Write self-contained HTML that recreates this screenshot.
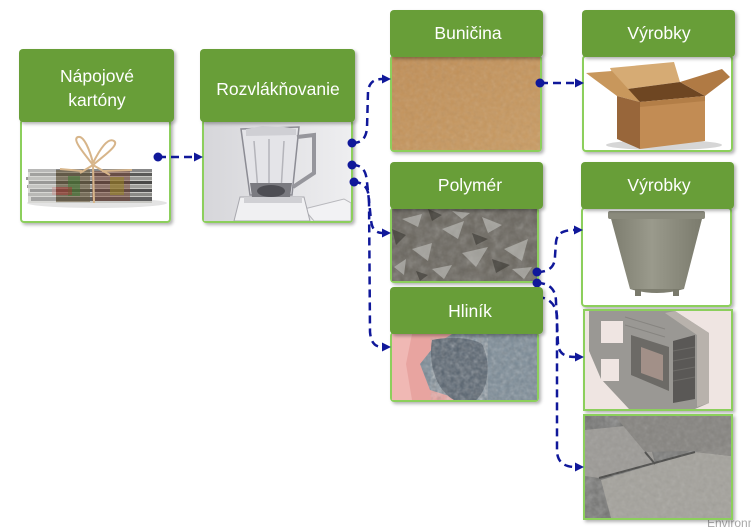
<!DOCTYPE html>
<html><head><meta charset="utf-8"><style>
html,body{margin:0;padding:0;background:#fff;}
body{width:751px;height:528px;overflow:hidden;}
svg{display:block;}
text{font-family:"Liberation Sans",sans-serif;}
</style></head><body>
<svg width="751" height="528" viewBox="0 0 751 528" xmlns="http://www.w3.org/2000/svg">
<defs>
<filter id="sh" x="-10%" y="-10%" width="130%" height="130%"><feDropShadow dx="2" dy="2" stdDeviation="1.5" flood-color="#000" flood-opacity="0.3"/></filter>
<filter id="noise" x="0" y="0" width="100%" height="100%"><feTurbulence type="fractalNoise" baseFrequency="0.22" numOctaves="2" seed="4"/><feColorMatrix type="saturate" values="0"/></filter>
<filter id="noise2" x="0" y="0" width="100%" height="100%"><feTurbulence type="fractalNoise" baseFrequency="0.12" numOctaves="3" seed="9"/><feColorMatrix type="saturate" values="0"/></filter>
<linearGradient id="blg" x1="0" y1="0" x2="1" y2="0"><stop offset="0" stop-color="#d6d6da"/><stop offset="1" stop-color="#eeeef0"/></linearGradient>
<linearGradient id="bun" x1="0" y1="0" x2="1" y2="1"><stop offset="0" stop-color="#c08e56"/><stop offset="1" stop-color="#c99c64"/></linearGradient>
<linearGradient id="pot" x1="0" y1="0" x2="1" y2="0"><stop offset="0" stop-color="#7c7c6e"/><stop offset="0.45" stop-color="#9a9a8c"/><stop offset="1" stop-color="#7a7a6c"/></linearGradient>
</defs>

<text x="707" y="527" font-size="12" fill="#a8a8a8">Environment</text>

<!-- bodies -->
<g filter="url(#sh)">
<rect x="21" y="120" width="149" height="102" rx="3" fill="#fff" stroke="#8ccf5c" stroke-width="2"/>
<rect x="203" y="120" width="149" height="102" rx="3" fill="#fff" stroke="#8ccf5c" stroke-width="2"/>
<rect x="391" y="56" width="150" height="95" rx="3" fill="#fff" stroke="#8ccf5c" stroke-width="2"/>
<rect x="583" y="56" width="149" height="95" rx="3" fill="#fff" stroke="#8ccf5c" stroke-width="2"/>
<rect x="391" y="208" width="147" height="74" rx="3" fill="#fff" stroke="#8ccf5c" stroke-width="2"/>
<rect x="582" y="208" width="149" height="98" rx="3" fill="#fff" stroke="#8ccf5c" stroke-width="2"/>
<rect x="391" y="333" width="147" height="68" rx="3" fill="#fff" stroke="#8ccf5c" stroke-width="2"/>
<rect x="584" y="310" width="148" height="100" fill="#fff" stroke="#8ccf5c" stroke-width="2"/>
<rect x="584" y="415" width="148" height="104" fill="#fff" stroke="#8ccf5c" stroke-width="2"/>
</g>

<!-- N1 image: newspapers -->
<svg x="22" y="121" width="147" height="100">
<ellipse cx="75" cy="82" rx="70" ry="5" fill="#e4e4e4"/>
<rect x="6" y="48" width="124" height="34" fill="#c8c8c4"/>
<g>
<rect x="6" y="48" width="124" height="3" fill="#888"/>
<rect x="8" y="52" width="122" height="3" fill="#5a5a58"/>
<rect x="4" y="56" width="126" height="3" fill="#9a9a96"/>
<rect x="7" y="60" width="123" height="3" fill="#4a4a48"/>
<rect x="5" y="64" width="125" height="3" fill="#a0a09c"/>
<rect x="8" y="68" width="122" height="3" fill="#505050"/>
<rect x="6" y="72" width="124" height="3" fill="#8a8a86"/>
<rect x="9" y="76" width="121" height="4" fill="#606060"/>
</g>
<rect x="34" y="49" width="34" height="32" fill="#6a5a3a" opacity="0.55"/>
<rect x="70" y="50" width="38" height="30" fill="#7a4030" opacity="0.45"/>
<rect x="46" y="55" width="12" height="20" fill="#3a7a30" opacity="0.5"/>
<rect x="88" y="56" width="14" height="18" fill="#9a8a20" opacity="0.5"/>
<rect x="30" y="66" width="20" height="8" fill="#b03030" opacity="0.45"/>
<rect x="6" y="48" width="28" height="34" fill="#e8e8e6" opacity="0.5"/>
<path d="M71,44 C60,30 50,18 56,16 C62,14 68,30 71,42 M71,42 C78,28 86,16 92,20 C98,24 80,36 71,44 M71,44 L58,52 M71,44 L88,54 M71,44 L72,82 M60,50 L38,48 M80,50 L110,49" stroke="#d7b58a" stroke-width="2" fill="none"/>
</svg>

<!-- N2 image: blender -->
<svg x="204" y="121" width="147" height="100">
<rect width="147" height="100" fill="url(#blg)"/>
<path d="M100,88 L140,78 L147,82 L147,100 L110,100 Z" fill="#f2f2f4" stroke="#b8b8bc" stroke-width="1"/>
<path d="M30,100 L36,76 L100,76 L106,100 Z" fill="#f0f0f2" stroke="#a8a8ae" stroke-width="1"/>
<path d="M37,8 L95,6 L88,74 L46,74 Z" fill="#e4e4e8" stroke="#8c8c94" stroke-width="1.5"/>
<path d="M42,8 L58,5 L80,6 L92,8 L92,14 L42,15 Z" fill="#cfcfd4"/>
<path d="M93,16 L110,14 L110,52 L89,66" fill="none" stroke="#96969c" stroke-width="4"/>
<path d="M50,20 L54,70 M80,20 L77,70 M65,18 L65,70" stroke="#b4b4ba" stroke-width="1.5"/>
<path d="M46,62 L88,62 L86,76 L48,76 Z" fill="#7a7a80"/>
<ellipse cx="67" cy="70" rx="14" ry="6" fill="#4e4e54"/>
<rect x="40" y="76" width="58" height="6" fill="#d0d0d4"/>
</svg>

<!-- Bunicina image -->
<svg x="392" y="57" width="148" height="93">
<rect width="148" height="93" fill="url(#bun)"/>
<rect width="148" height="93" filter="url(#noise)" opacity="0.18"/>
</svg>

<!-- Vyrobky 1 box -->
<svg x="584" y="57" width="147" height="93">
<ellipse cx="80" cy="88" rx="58" ry="5" fill="#d6d6d6"/>
<polygon points="26,11 90,5 96,25 36,33" fill="#d6ab74"/>
<polygon points="36,33 96,25 121,39 56,45" fill="#6e4622"/>
<polygon points="2,16 28,14 56,45 33,39" fill="#c8975c"/>
<polygon points="96,25 138,12 146,20 121,39" fill="#b07a44"/>
<polygon points="33,39 56,45 56,92 33,82" fill="#98663a"/>
<polygon points="56,45 121,39 121,84 56,92" fill="#c28c54"/>
<polygon points="56,45 121,39 121,44 56,50" fill="#a87440" opacity="0.6"/>
</svg>

<!-- Polymer image -->
<svg x="392" y="209" width="145" height="72">
<rect width="145" height="72" fill="#69655d"/>
<rect width="145" height="72" filter="url(#noise2)" opacity="0.35"/>
<g fill="#c4c4c0" opacity="0.6">
<polygon points="10,10 30,5 26,18"/><polygon points="50,20 72,12 66,30"/><polygon points="90,8 110,16 96,24"/>
<polygon points="20,40 40,34 36,52"/><polygon points="70,44 96,38 84,58"/><polygon points="112,40 136,30 130,52"/>
<polygon points="40,60 60,56 52,70"/><polygon points="120,60 140,58 132,70"/>
<polygon points="2,58 14,50 12,66"/><polygon points="60,2 78,4 70,10"/>
</g>
<g fill="#35332e" opacity="0.55">
<polygon points="0,20 14,26 4,36"/><polygon points="36,0 50,6 40,12"/><polygon points="100,50 118,56 104,64"/><polygon points="24,62 36,66 28,72"/><polygon points="80,24 96,30 84,36"/>
</g>
</svg>

<!-- Vyrobky 2 pot -->
<svg x="583" y="209" width="147" height="96">
<polygon points="27,6 120,6 101,80 47,80" fill="url(#pot)"/>
<rect x="25" y="2" width="97" height="8" rx="2" fill="#8a8a7c"/>
<path d="M47,80 Q74,88 101,80" fill="#7e7e70"/>
<rect x="52" y="80" width="6" height="7" fill="#7a7a6c"/>
<rect x="90" y="80" width="6" height="7" fill="#7a7a6c"/>
</svg>

<!-- Hlinik image -->
<svg x="392" y="334" width="145" height="66">
<rect width="145" height="66" fill="#7a8a96"/>
<rect width="145" height="66" filter="url(#noise)" opacity="0.45"/>
<path d="M0,0 L60,0 L44,10 L28,30 L38,56 L70,66 L0,66 Z" fill="#e8a4a0"/>
<path d="M0,0 L20,0 L14,30 L20,66 L0,66 Z" fill="#f0b8b4"/>
<path d="M40,6 C60,2 80,4 90,10 C100,30 96,56 84,66 L62,66 C44,56 36,30 40,6 Z" fill="#56626e"/>
<path d="M40,6 C60,2 80,4 90,10 C100,30 96,56 84,66 L62,66 C44,56 36,30 40,6 Z" filter="url(#noise)" opacity="0.5"/>
</svg>

<!-- Pallet image -->
<svg x="585" y="311" width="146" height="98">
<rect width="146" height="98" fill="#efe5e2"/>
<polygon points="4,0 90,0 124,22 124,92 110,98 44,98 16,68 4,40" fill="#9a9894"/>
<polygon points="90,0 124,22 124,92 112,96 112,24 80,2" fill="#b8b2ac"/>
<rect x="16" y="10" width="22" height="22" fill="#efe5e2"/>
<rect x="16" y="48" width="18" height="22" fill="#efe5e2"/>
<polygon points="46,24 84,36 84,80 46,64" fill="#6c6a66"/>
<polygon points="56,36 78,44 78,70 56,62" fill="#a29088"/>
<polygon points="88,30 110,24 110,88 88,92" fill="#5a5856"/>
<g stroke="#7a7874" stroke-width="1" opacity="0.6">
<path d="M40,6 L80,18 M40,14 L80,26 M88,40 L110,36 M88,50 L110,46 M88,60 L110,56 M88,70 L110,66"/>
</g>
</svg>

<!-- Blocks image -->
<svg x="585" y="416" width="146" height="102">
<rect width="146" height="102" fill="#6e6e6c"/>
<rect width="146" height="102" filter="url(#noise2)" opacity="0.45"/>
<polygon points="0,14 60,8 70,48 14,62 0,60" fill="#9c9a96"/>
<polygon points="30,0 146,0 146,34 60,36 40,12" fill="#868480"/>
<polygon points="16,64 110,36 146,40 146,102 26,102" fill="#a4a29c"/>
<polygon points="110,36 146,28 146,40" fill="#8a8884"/>
<path d="M14,62 L110,36 M60,36 L70,48" stroke="#4a4a48" stroke-width="2" fill="none"/>
<rect width="146" height="102" filter="url(#noise)" opacity="0.2"/>
</svg>

<!-- connectors -->
<g stroke="#10189a" stroke-width="2.5" fill="none" stroke-dasharray="8 5">
<path d="M158,157 L196,157"/>
<path d="M352,143 C362,143 366,138 367,128 L368,92 C369,82 374,79 383,79"/>
<path d="M352,165 C362,165 366,170 367,182 L371,220 C372,230 376,233 383,233"/>
<path d="M353,182 C362,182 368,186 369,198 L370,332 C371,343 375,347 383,347"/>
<path d="M540,83 L576,83"/>
<path d="M537,272 C550,272 555,266 555,256 L556,242 C557,233 563,230 576,230"/>
<path d="M537,283 C550,283 556,290 556,302 L558,344 C559,354 565,357 576,357"/>
<path d="M537,297 C548,297 556,304 557,316 L557,452 C558,463 565,467 576,467"/>
</g>
<g fill="#10189a">
<circle cx="158" cy="157" r="4.5"/>
<circle cx="352" cy="143" r="4.5"/>
<circle cx="352" cy="165" r="4.5"/>
<circle cx="354" cy="182" r="4.5"/>
<circle cx="540" cy="83" r="4.5"/>
<circle cx="537" cy="272" r="4.5"/>
<circle cx="537" cy="283" r="4.5"/>
<polygon points="203,157 194,152.5 194,161.5"/>
<polygon points="391,79 382,74.5 382,83.5"/>
<polygon points="391,233 382,228.5 382,237.5"/>
<polygon points="391,347 382,342.5 382,351.5"/>
<polygon points="584,83 575,78.5 575,87.5"/>
<polygon points="583,230 574,225.5 574,234.5"/>
<polygon points="584,357 575,352.5 575,361.5"/>
<polygon points="584,467 575,462.5 575,471.5"/>
</g>

<!-- headers -->
<g filter="url(#sh)" fill="#679e38">
<rect x="19" y="49" width="155" height="73" rx="4"/>
<rect x="200" y="49" width="155" height="73" rx="4"/>
<rect x="390" y="10" width="153" height="47" rx="4"/>
<rect x="582" y="10" width="153" height="47" rx="4"/>
<rect x="390" y="162" width="153" height="47" rx="4"/>
<rect x="581" y="162" width="153" height="47" rx="4"/>
<rect x="390" y="287" width="153" height="47" rx="4"/>
</g>
<g fill="#fff" font-size="17.5" text-anchor="middle">
<text x="97" y="82">Nápojové</text>
<text x="97" y="106">kartóny</text>
<text x="278" y="95">Rozvlákňovanie</text>
<text x="468" y="39">Buničina</text>
<text x="659" y="39">Výrobky</text>
<text x="470" y="191">Polymér</text>
<text x="659" y="191">Výrobky</text>
<text x="470" y="317">Hliník</text>
</g>
</svg>
</body></html>
